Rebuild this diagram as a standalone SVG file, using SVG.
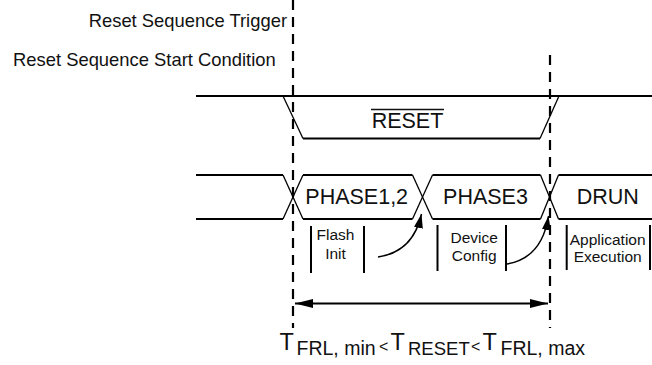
<svg xmlns="http://www.w3.org/2000/svg" width="652" height="365" viewBox="0 0 652 365">
<style>
text{font-family:"Liberation Sans",Arial,sans-serif;fill:#111}
.lbl{font-size:18.4px}
.big{font-size:21.5px;text-anchor:middle}
.sm{font-size:15.5px;text-anchor:middle}
.h{stroke:#000;stroke-width:2;fill:none}
.d{stroke:#000;stroke-width:1.3;fill:none}
.dash{stroke:#000;stroke-width:2.2;stroke-dasharray:10 7;fill:none}
.bar{stroke:#000;stroke-width:2}
.arr{stroke:#000;stroke-width:1.5;fill:none}
</style>
<defs>
<marker id="ah" markerUnits="userSpaceOnUse" markerWidth="18" markerHeight="10" refX="18" refY="4.5" orient="auto-start-reverse"><path d="M0,0 L18,4.5 L0,9 z" fill="#000"/></marker>
<marker id="ch" markerUnits="userSpaceOnUse" markerWidth="15" markerHeight="10" refX="14" refY="4.5" orient="auto"><path d="M0,0 L14,4.5 L0,9 z" fill="#000"/></marker>
</defs>
<g id="labels">
<text class="lbl" x="287" y="27" text-anchor="end">Reset Sequence Trigger</text>
<text class="lbl" x="13" y="65.5">Reset Sequence Start Condition</text>
</g>
<g id="reset-signal">
<line class="h" x1="196" y1="96" x2="652" y2="96"/>
<polyline class="d" points="283,96 303,138.5"/>
<line class="h" x1="303" y1="138.5" x2="540" y2="138.5"/>
<polyline class="d" points="540,138.5 559,96"/>
<text class="big" x="407.5" y="127.5">RESET</text>
<line stroke="#111" stroke-width="1.5" x1="371" y1="109.5" x2="444" y2="109.5"/>
</g>
<g id="phase-signal">
<line class="h" x1="196" y1="175" x2="283" y2="175"/>
<line class="h" x1="196" y1="219" x2="283" y2="219"/>
<line class="d" x1="283" y1="175" x2="303" y2="219"/>
<line class="d" x1="283" y1="219" x2="303" y2="175"/>
</g>
<g id="phase12">
<line class="h" x1="303" y1="175" x2="412.5" y2="175"/>
<line class="h" x1="303" y1="219" x2="412.5" y2="219"/>
<line class="d" x1="412.5" y1="175" x2="432.5" y2="219"/>
<line class="d" x1="412.5" y1="219" x2="432.5" y2="175"/>
<text class="big" x="356.7" y="204">PHASE1,2</text>
</g>
<g id="phase3">
<line class="h" x1="432.5" y1="175" x2="540.5" y2="175"/>
<line class="h" x1="432.5" y1="219" x2="540.5" y2="219"/>
<line class="d" x1="540.5" y1="175" x2="558.5" y2="219"/>
<line class="d" x1="540.5" y1="219" x2="558.5" y2="175"/>
<text class="big" x="485.5" y="204">PHASE3</text>
</g>
<g id="drun">
<line class="h" x1="558.5" y1="175" x2="652" y2="175"/>
<line class="h" x1="558.5" y1="219" x2="652" y2="219"/>
<text class="big" x="607.8" y="204">DRUN</text>
</g>
<g id="flash-init">
<line class="bar" x1="311" y1="226" x2="311" y2="273"/>
<line class="bar" x1="364" y1="226" x2="364" y2="273"/>
<text class="sm" x="335.5" y="240">Flash</text>
<text class="sm" x="335.5" y="258.5">Init</text>
</g>
<g id="device-config">
<line class="bar" x1="437.5" y1="225" x2="437.5" y2="271"/>
<line class="bar" x1="506" y1="225" x2="506" y2="271"/>
<text class="sm" x="474.2" y="243">Device</text>
<text class="sm" x="474.2" y="261">Config</text>
</g>
<g id="app-exec">
<line class="bar" x1="566.7" y1="225" x2="566.7" y2="270"/>
<line class="bar" x1="650" y1="225" x2="650" y2="270"/>
<text class="sm" x="607.7" y="245">Application</text>
<text class="sm" x="607.7" y="262">Execution</text>
</g>
<g id="connectors">
<line class="dash" x1="293" y1="0" x2="293" y2="328"/>
<line class="dash" x1="550" y1="55" x2="550" y2="328"/>
<path class="arr" d="M378,257 Q413,252 421.5,214" marker-end="url(#ch)"/>
<path class="arr" d="M507,264 Q542,258 548.5,216" marker-end="url(#ch)"/>
<line stroke="#000" stroke-width="2" x1="295" y1="303.5" x2="548" y2="303.5" marker-start="url(#ah)" marker-end="url(#ah)"/>
</g>
<g id="formula">
<text><tspan x="279.5" y="350" font-size="23.5">T</tspan><tspan x="296.5" y="354.5" font-size="19.5">FRL, min</tspan><tspan x="379" y="352" font-size="16">&lt;</tspan><tspan x="390.5" y="350" font-size="23.5">T</tspan><tspan x="408" y="354.5" font-size="18.5">RESET</tspan><tspan x="471" y="352" font-size="16">&lt;</tspan><tspan x="482.5" y="350" font-size="23.5">T</tspan><tspan x="500.5" y="354.5" font-size="19.5">FRL, max</tspan></text>
</g>
</svg>
